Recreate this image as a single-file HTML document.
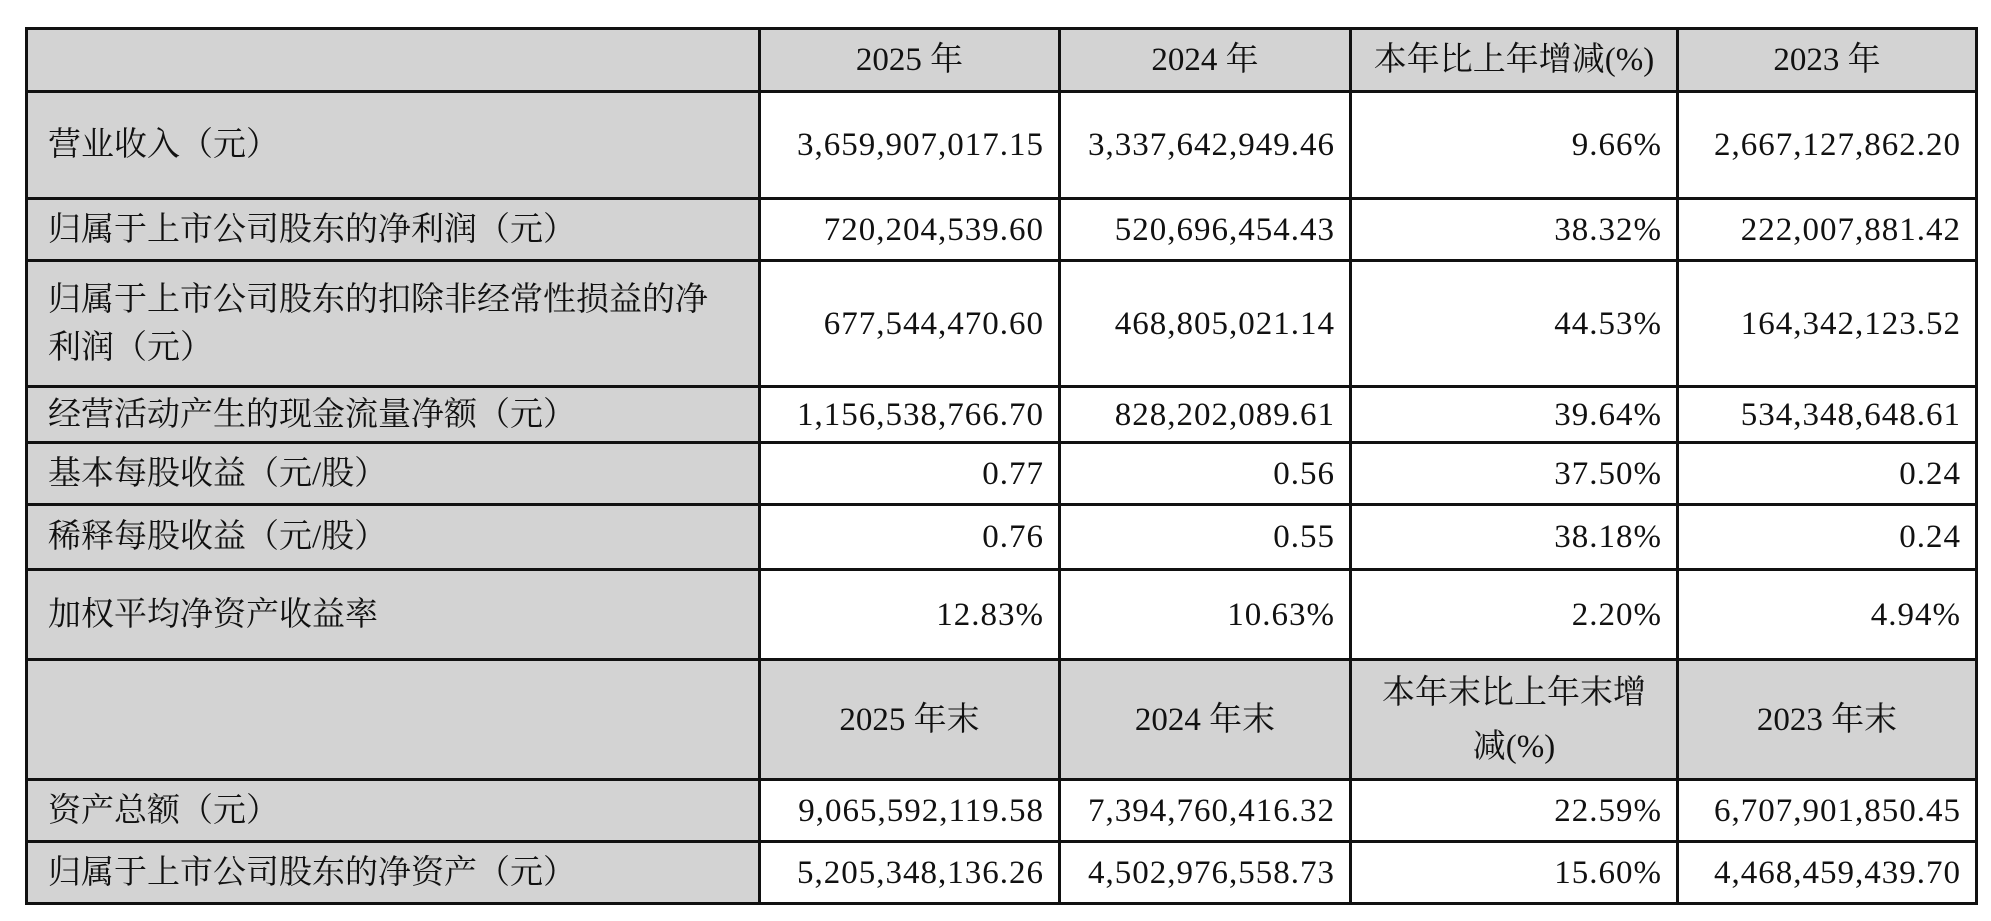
<!DOCTYPE html>
<html><head><meta charset="utf-8"><style>
html,body{margin:0;padding:0;background:#fff;width:1991px;height:921px;overflow:hidden}
table{position:absolute;left:25px;top:27px;border-collapse:collapse;table-layout:fixed;width:1950px;
font-family:"Liberation Serif","Noto Serif CJK SC",serif;font-size:33px;color:#111}
td{border:3px solid #111;padding:0 14px 0 20px;text-align:right;vertical-align:middle;line-height:42px;white-space:nowrap}
td.n{letter-spacing:1px}
td.l{text-align:left;background:#d3d3d3}
tr.h td{background:#d3d3d3;text-align:center;padding:0 6px}
</style></head><body>
<table>
<colgroup><col style="width:733px"><col style="width:300px"><col style="width:291px"><col style="width:327px"><col style="width:299px"></colgroup>
<tr class="h" style="height:63px"><td></td><td>2025 年</td><td>2024 年</td><td>本年比上年增减(%)</td><td>2023 年</td></tr>
<tr style="height:107px"><td class="l">营业收入（元）</td><td class="n">3,659,907,017.15</td><td class="n">3,337,642,949.46</td><td class="n">9.66%</td><td class="n">2,667,127,862.20</td></tr>
<tr style="height:62px"><td class="l">归属于上市公司股东的净利润（元）</td><td class="n">720,204,539.60</td><td class="n">520,696,454.43</td><td class="n">38.32%</td><td class="n">222,007,881.42</td></tr>
<tr style="height:126px"><td class="l" style="line-height:48px">归属于上市公司股东的扣除非经常性损益的净<br>利润（元）</td><td class="n">677,544,470.60</td><td class="n">468,805,021.14</td><td class="n">44.53%</td><td class="n">164,342,123.52</td></tr>
<tr style="height:56px"><td class="l">经营活动产生的现金流量净额（元）</td><td class="n">1,156,538,766.70</td><td class="n">828,202,089.61</td><td class="n">39.64%</td><td class="n">534,348,648.61</td></tr>
<tr style="height:62px"><td class="l">基本每股收益（元/股）</td><td class="n">0.77</td><td class="n">0.56</td><td class="n">37.50%</td><td class="n">0.24</td></tr>
<tr style="height:65px"><td class="l">稀释每股收益（元/股）</td><td class="n">0.76</td><td class="n">0.55</td><td class="n">38.18%</td><td class="n">0.24</td></tr>
<tr style="height:90px"><td class="l">加权平均净资产收益率</td><td class="n">12.83%</td><td class="n">10.63%</td><td class="n">2.20%</td><td class="n">4.94%</td></tr>
<tr class="h" style="height:120px"><td></td><td>2025 年末</td><td>2024 年末</td><td style="line-height:54px">本年末比上年末增<br>减(%)</td><td>2023 年末</td></tr>
<tr style="height:62px"><td class="l">资产总额（元）</td><td class="n">9,065,592,119.58</td><td class="n">7,394,760,416.32</td><td class="n">22.59%</td><td class="n">6,707,901,850.45</td></tr>
<tr style="height:62px"><td class="l">归属于上市公司股东的净资产（元）</td><td class="n">5,205,348,136.26</td><td class="n">4,502,976,558.73</td><td class="n">15.60%</td><td class="n">4,468,459,439.70</td></tr>
</table>
</body></html>
